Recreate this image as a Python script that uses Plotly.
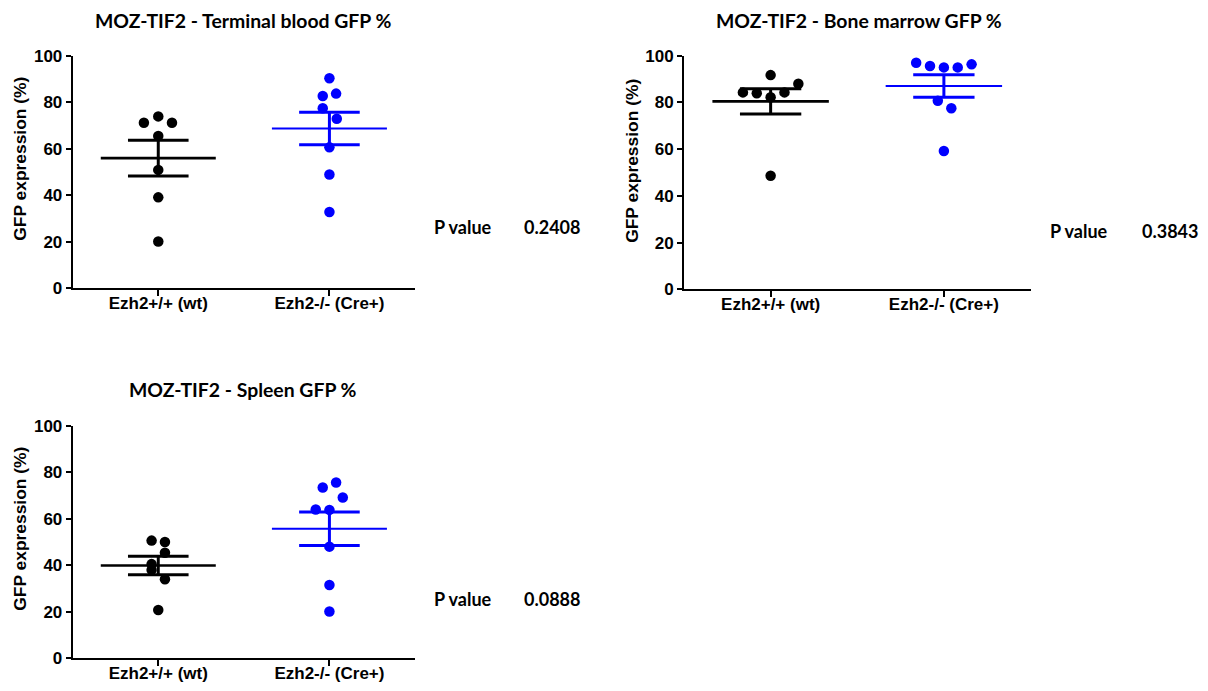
import numpy as np
import plotly.graph_objects as go

# ---------------- data ----------------
categories = ["Ezh2+/+ (wt)", "Ezh2-/- (Cre+)"]
y_ticks = [0, 20, 40, 60, 80, 100]

titles = ["MOZ-TIF2 - Terminal blood GFP %",
          "MOZ-TIF2 - Bone marrow GFP %",
          "MOZ-TIF2 - Spleen GFP %"]
p_values = ["0.2408", "0.3843", "0.0888"]
y_title = "GFP expression (%)"

tb_wt = [71.2, 73.9, 71.2, 65.5, 50.9, 39.1, 20.1]
tb_cre = [90.3, 82.7, 83.7, 77.4, 72.9, 60.6, 48.9, 32.8]
bm_wt = [84.3, 83.9, 91.7, 82.2, 84.3, 88.0, 48.6]
bm_cre = [97.0, 95.6, 95.0, 95.0, 96.3, 80.7, 77.5, 59.2]
sp_wt = [50.6, 50.0, 45.4, 40.5, 38.0, 34.0, 20.8]
sp_cre = [73.4, 75.6, 69.1, 64.0, 63.8, 48.0, 31.5, 20.1]

# horizontal scatter offsets of the dots (category units)
tb_wt_off = [-0.084, 0.0, 0.08, 0.0, 0.0, 0.0, 0.0]
tb_cre_off = [0.0, -0.039, 0.039, -0.039, 0.043, 0.0, 0.0, 0.0]
bm_wt_off = [-0.16, -0.08, 0.0, 0.0, 0.08, 0.16, 0.0]
bm_cre_off = [-0.16, -0.08, 0.0, 0.08, 0.16, -0.035, 0.043, 0.0]
sp_wt_off = [-0.039, 0.039, 0.039, -0.039, -0.039, 0.039, 0.0]
sp_cre_off = [-0.039, 0.039, 0.078, -0.08, 0.0, 0.0, 0.0, 0.0]

panels = [
    (tb_wt, tb_wt_off, tb_cre, tb_cre_off),
    (bm_wt, bm_wt_off, bm_cre, bm_cre_off),
    (sp_wt, sp_wt_off, sp_cre, sp_cre_off),
]

# ---------------- layout geometry ----------------
PAGE = 8  # default page margin of the html body
W, H = 1208 - 2 * PAGE, 691 - 2 * PAGE
# (x0, x1, ytop, ybottom) in window pixels
boxes = [(72.7, 415.0, 55.7, 288.3),
         (684.0, 1030.5, 55.7, 289.3),
         (72.7, 415.0, 425.7, 658.3)]
title_pos = [(243, 20), (859, 20), (243, 389)]
ytitle_pos = [(20, 158.7), (632, 160.8), (20, 528.7)]
pval_pos = [(432, 522, 227), (1048, 1140, 230.7), (432, 522, 599)]


def px(x):
    return (x - PAGE) / W


def py(y):
    return 1 - (y - PAGE) / H


colors = ["#000000", "#0000ff"]
mean_w = [2.6, 2.0]
tick_font = dict(family="Liberation Sans, Arial, sans-serif", size=17, color="black", weight="bold")
calibri = dict(family="Lato, Open Sans, sans-serif", size=18, color="black", weight="bold")

fig = go.Figure()
MEAN_HALF = 0.336
CAP_HALF = 0.177

for i, (wt, wt_off, cre, cre_off) in enumerate(panels):
    xa = "x" if i == 0 else f"x{i+1}"
    ya = "y" if i == 0 else f"y{i+1}"
    for g, (vals, offs) in enumerate([(wt, wt_off), (cre, cre_off)]):
        v = np.array(vals)
        m = v.mean()
        sem = v.std(ddof=1) / np.sqrt(len(v))
        c = colors[g]
        fig.add_trace(go.Scatter(
            x=[g + o for o in offs], y=vals, mode="markers",
            marker=dict(size=10.5, color=c, line=dict(width=0)),
            xaxis=xa, yaxis=ya, showlegend=False, cliponaxis=False))
        fig.add_trace(go.Scatter(
            x=[g - MEAN_HALF, g + MEAN_HALF], y=[m, m], mode="lines",
            line=dict(color=c, width=mean_w[g]), xaxis=xa, yaxis=ya, showlegend=False))
        fig.add_trace(go.Scatter(
            x=[g, g, None, g - CAP_HALF, g + CAP_HALF, None, g - CAP_HALF, g + CAP_HALF],
            y=[m - sem, m + sem, None, m + sem, m + sem, None, m - sem, m - sem],
            mode="lines", line=dict(color=c, width=3),
            xaxis=xa, yaxis=ya, showlegend=False))

layout = dict(
    width=W, height=H, margin=dict(l=0, r=0, t=0, b=0, autoexpand=False),
    plot_bgcolor="white", paper_bgcolor="white", showlegend=False,
)
annotations = []
for i, (x0, x1, yt, yb) in enumerate(boxes):
    sfx = "" if i == 0 else str(i + 1)
    layout["xaxis" + sfx] = dict(
        domain=[px(x0), px(x1)], range=[-0.5, 1.5], anchor="y" + sfx,
        tickmode="array", tickvals=[0, 1], ticktext=categories, automargin=False,
        showline=True, linecolor="black", linewidth=2,
        ticks="outside", ticklen=6, tickwidth=2, tickcolor="black",
        ticklabelstandoff=-8,
        showgrid=False, zeroline=False, tickfont=tick_font, fixedrange=True)
    layout["yaxis" + sfx] = dict(
        domain=[py(yb), py(yt)], range=[0, 100], anchor="x" + sfx,
        tickmode="array", tickvals=y_ticks, automargin=False,
        showline=True, linecolor="black", linewidth=2,
        ticks="outside", ticklen=5, tickwidth=2, tickcolor="black",
        showgrid=False, zeroline=False, tickfont=tick_font, fixedrange=True)
    tx, ty = title_pos[i]
    annotations.append(dict(text=titles[i], x=px(tx), y=py(ty), xref="paper", yref="paper",
                            xanchor="center", yanchor="middle", showarrow=False,
                            font=dict(calibri, size=19.4)))
    yx, yy = ytitle_pos[i]
    annotations.append(dict(text=y_title, x=px(yx), y=py(yy), xref="paper", yref="paper",
                            xanchor="center", yanchor="middle", showarrow=False, textangle=-90,
                            font=dict(tick_font, size=17.4)))
    pxl, vxl, pyl = pval_pos[i]
    annotations.append(dict(text="P value", x=px(pxl), y=py(pyl), xref="paper", yref="paper",
                            xanchor="left", yanchor="middle", showarrow=False, font=calibri))
    annotations.append(dict(text=p_values[i], x=px(vxl), y=py(pyl), xref="paper", yref="paper",
                            xanchor="left", yanchor="middle", showarrow=False, font=calibri))
layout["annotations"] = annotations
fig.update_layout(**layout)

fig.write_html("out.html")
